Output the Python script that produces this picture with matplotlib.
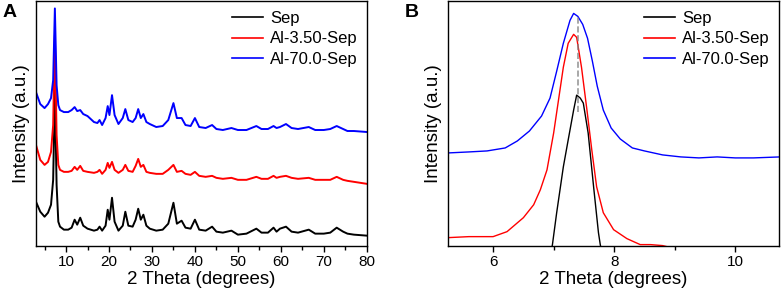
import matplotlib
matplotlib.use("Agg")
import matplotlib.pyplot as plt
import numpy as np

plt.rcParams['font.family'] = ['Liberation Sans', 'DejaVu Sans']

# Panel A: full XRD patterns
theta_a = [3, 4, 5, 5.8, 6.5, 7.0, 7.4, 7.8, 8.2, 8.6, 9.5, 10.5, 11.3, 12.0, 12.6,
           13.3, 14.0, 15.0, 16.5, 17.3, 17.8, 18.4, 19.2, 19.7, 20.1, 20.7, 21.3,
           22.2, 23.2, 23.8, 24.5, 25.5, 26.2, 26.8, 27.4, 28.0, 28.7, 29.5, 31.0,
           32.5, 33.8, 35.0, 35.8, 36.9, 37.8, 39.0, 40.0, 41.0, 42.5, 44.0, 45.0,
           46.5, 48.5, 50.0, 52.0, 54.3, 55.5, 57.0, 58.3, 59.0, 59.8, 61.2, 62.5,
           64.0, 66.5, 68.0, 70.0, 71.5, 73.0, 74.5, 75.5, 77.0, 80.0]
sep_a = [44, 34, 29, 33, 41, 66, 156, 61, 24, 19, 16, 16, 18, 26, 21,
         28, 20, 17, 15, 16, 19, 15, 20, 36, 26, 48, 24,
         15, 20, 34, 20, 19, 26, 37, 26, 31, 20, 17, 15,
         16, 22, 43, 22, 25, 18, 17, 26, 16, 15, 19, 14,
         13, 15, 11, 12, 17, 13, 13, 18, 14, 17, 19, 14,
         13, 16, 12, 12, 13, 18, 14, 12, 11, 10]
al35_a = [101, 86, 81, 84, 94, 121, 211, 111, 81, 76, 74, 74, 75, 79, 76,
          80, 75, 74, 73, 74, 76, 72, 76, 83, 78, 84, 76,
          73, 76, 81, 75, 74, 80, 87, 79, 81, 74, 73, 72,
          72, 76, 81, 74, 75, 72, 71, 74, 70, 69, 70, 68,
          67, 68, 66, 66, 69, 67, 67, 70, 68, 69, 70, 68,
          67, 68, 66, 66, 66, 69, 66, 65, 64, 62]
al70_a = [154, 142, 138, 142, 148, 166, 238, 161, 141, 136, 134, 134, 136, 139, 135,
          136, 132, 130, 124, 123, 126, 121, 128, 140, 131, 151, 131,
          122, 128, 137, 126, 124, 128, 137, 128, 132, 124, 122, 119,
          120, 126, 143, 128, 128, 121, 120, 128, 119, 118, 121, 117,
          116, 118, 116, 116, 120, 117, 117, 120, 118, 119, 122, 118,
          117, 119, 116, 116, 117, 120, 117, 115, 115, 114]

# Panel B: zoom on the (110) reflection
theta_b_sep = [6.96, 6.98, 7.05, 7.16, 7.24, 7.33, 7.38, 7.44, 7.49, 7.57, 7.66, 7.74, 7.77, 7.79]
sep_b = [-5, 1, 33, 79, 106, 136, 151, 148, 143, 113, 59, 13, 1, -5]
theta_b_35 = [5.26, 5.6, 6.0, 6.23, 6.5, 6.67, 6.78, 6.89, 7.0, 7.08, 7.16, 7.24, 7.33,
              7.38, 7.46, 7.55, 7.63, 7.71, 7.82, 7.99, 8.21, 8.43, 8.6, 8.8, 9.0, 10.74]
al35_b = [8, 9, 9, 14, 28, 41, 56, 76, 113, 146, 179, 203, 212,
          209, 179, 136, 96, 59, 33, 16, 7, 1, 1, 0, -3, -3]
theta_b_70 = [5.26, 5.6, 5.9, 6.2, 6.4, 6.6, 6.8, 6.94, 7.05, 7.16, 7.27, 7.33, 7.40,
              7.48, 7.56, 7.64, 7.72, 7.82, 7.95, 8.1, 8.3, 8.5, 8.8, 9.1, 9.4, 9.7,
              10.0, 10.3, 10.74]
al70_b = [93, 94, 95, 98, 105, 115, 130, 148, 175, 203, 226, 233, 230,
          222, 208, 185, 160, 136, 118, 107, 98, 95, 91, 89, 88, 89,
          88, 88, 89]

labels = ['Sep', 'Al-3.50-Sep', 'Al-70.0-Sep']
colors = ['black', 'red', 'blue']

fig = plt.figure(figsize=(7.82, 2.91), dpi=100)
axA = fig.add_axes([0.046, 0.156, 0.423, 0.839])
axB = fig.add_axes([0.5725, 0.156, 0.4235, 0.839])

for y, lab, c in zip([sep_a, al35_a, al70_a], labels, colors):
    axA.plot(theta_a, y, color=c, lw=1.4, label=lab)
axA.set_xlim(3, 80)
axA.set_ylim(0, 245)
axA.set_xticks([10, 20, 30, 40, 50, 60, 70, 80])
axA.set_xticks(np.arange(5, 80, 10), minor=True)

curves_b = [(theta_b_sep, sep_b), (theta_b_35, al35_b), (theta_b_70, al70_b)]
for (x, y), lab, c in zip(curves_b, labels, colors):
    axB.plot(x, y, color=c, lw=1.0, label=lab)
axB.plot([7.40, 7.40], [134, 231], color='grey', ls='--', lw=1.2, alpha=0.8)
axB.set_xlim(5.25, 10.72)
axB.set_ylim(0, 245)
axB.set_xticks([6, 8, 10])
axB.set_xticks([7, 9], minor=True)

for ax in (axA, axB):
    ax.set_yticks([])
    ax.tick_params(axis='x', direction='out', length=4, width=1, labelsize=11, pad=3)
    ax.tick_params(axis='x', which='minor', direction='out', length=3, width=1)
    ax.set_xlabel('2 Theta (degrees)', fontsize=13.5, labelpad=1)
    ax.set_ylabel('Intensity (a.u.)', fontsize=13.5, labelpad=4)
    for s in ax.spines.values():
        s.set_linewidth(1.0)
    leg = ax.legend(loc='upper right', frameon=False, fontsize=12, handlelength=1.9,
                    labelspacing=0.35, handletextpad=0.4, borderaxespad=0.15)
    for h in leg.get_lines():
        h.set_linewidth(1.2)

fig.text(0.003, 0.985, 'A', fontsize=14, fontweight='bold', va='top', ha='left')
fig.text(0.518, 0.985, 'B', fontsize=14, fontweight='bold', va='top', ha='left')

fig.savefig('out.png', dpi=100)
